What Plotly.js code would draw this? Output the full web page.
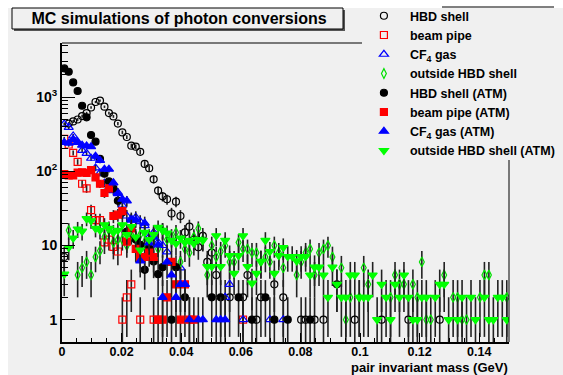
<!DOCTYPE html>
<html>
<head>
<meta charset="utf-8">
<script src="https://cdn.plot.ly/plotly-3.0.1.min.js"></script>
<style>html,body{margin:0;padding:0;background:#f0f0f0;}#chart{width:563px;height:375px;}</style>
</head>
<body>
<div id="chart"></div>
<script>
// histogram binning (GeV)
const binWidth = 0.0015;
const nBins = 100;

// counts per bin (null = empty bin)
const hbdShell = [7,440,470,500,555,610,725,860,900,743,610,550,440,335,290,222,215,183,126,110,
  78,55,46,42,27,39,25,15,18,12,9.5,13.5,6,8,4,null,null,2,null,null,
  2,4,null,1,2,null,null,3,null,2,null,null,null,1,1,null,1,null,1,null,
  null,null,null,null,null,1,null,null,null,null,null,1,null,null,null,null,null,1,null,null,
  null,null,null,null,1,null,null,null,null,null,null,null,null,null,null,null,null,null,null,null];

const beamPipe = [275,230,177,134,68,59,30,22,22,11,12,9.6,8.3,1,2,3,null,1,null,null,
  1,null,null,null,null,null,null,null,null,null,null,null,null,null,null,null,null,null,null,null,
  1,null,null,null,null,null,null,null,null,null,null,null,null,null,null,null,null,null,null,null,
  null,null,null,null,null,null,null,null,null,null,null,null,null,null,null,null,null,null,null,null,
  null,null,null,null,null,null,null,null,null,null,null,null,null,null,null,null,null,null,null,null];

const cf4Gas = [434,392,300,250,192,175,150,111,95,69,60,55,52,35,25,23,24,21,18.5,13,
  15,11,10,8.2,null,null,5,null,null,null,null,null,null,null,null,null,2,3,null,null,
  1,null,null,null,null,null,1,null,null,1,null,null,null,null,null,null,null,null,null,null,
  null,null,null,null,null,null,null,null,null,null,null,null,null,null,null,null,null,null,null,null,
  null,null,null,null,null,null,null,null,null,null,null,null,null,null,null,null,null,null,null,null];

const outsideShell = [null,16,null,4,5,6,4,7,8.5,13,16,11,12,12,10,14,12,14,11,10,
  13,9,16,12,13,15,6,9,8,13,17,12,4,10,7,8.3,10,6,6,11,
  9,9,8,8,6,7,6,10,8,5,null,null,4,6,8,9,4,8,9,10,
  7,null,5,1,2,null,2,5,3,null,null,null,null,2,4,3,3,null,3,2,
  6,1,1,null,null,4,null,2,2,1,1,null,null,2,4,4,null,null,null,2];

const hbdShellATM = [2440,2200,1580,1210,766,535,309,251,147,93,73,59,40,28,15.4,17,12,10.2,4.7,9.2,
  6.1,4.1,5.1,null,1,5.1,null,2,null,null,null,null,null,2,null,2,null,null,null,2,
  null,null,1,null,null,2,null,1,null,null,1,null,null,null,null,1,null,null,null,null,
  null,3,null,null,null,null,null,null,null,null,null,null,null,null,null,null,null,null,null,null,
  null,null,null,null,null,null,null,null,null,null,null,null,null,null,null,null,null,null,null,null];

const beamPipeATM = [92,88,88,96,97,95,104,83,68,51,59,25,26,29,11.3,17,9,7,7,8,
  7,1,1,2,6,3,1,3,1,1,null,null,null,null,null,null,null,null,null,null,
  null,null,null,null,null,null,null,null,null,null,null,null,null,null,null,null,null,null,null,null,
  null,null,null,null,null,null,null,null,null,null,null,null,null,null,null,null,null,null,null,null,
  null,null,null,null,null,null,null,null,null,null,null,null,null,null,null,null,null,null,null,null];

const cf4GasATM = [245,240,270,245,225,220,215,160,140,107,107,70,50,42,40,22,22,6.2,20,10.8,
  13,10.2,2,6,4,2,3,3,1,null,1,1,null,null,1,1,1,null,null,null,
  null,null,null,null,null,null,null,null,null,null,null,null,null,null,null,null,null,null,null,null,
  null,null,null,null,null,null,null,null,null,null,null,null,null,null,null,null,null,null,null,null,
  null,null,null,null,null,null,null,null,null,null,null,null,null,null,null,null,null,null,null,null];

const outsideShellATM = [4.1,9.4,12.6,16.7,15.6,23,21.5,17,16,19,17,15,16,19,14,18,13,8.7,15,12,
  14,17.6,16,14.7,11.7,10.6,12.6,11,11.7,10.6,12,11.7,5.2,5.2,13.5,5.2,11.7,7.3,4.2,7.3,
  13.5,5.2,3.1,4.2,6.1,11.7,8.3,4.2,7.3,9.4,7.1,7.1,6.2,7.1,7.1,4,5.1,5.1,4,2,
  5.1,3,2,2,4,4,2,2,2,4,1,3,2,1,3,2,4,2,1,1,
  2,2,null,2,3,3,1,null,1,2,null,2,1,null,2,1,1,2,2,1];

const seriesNames = ['HBD shell','beam pipe','CF<sub>4</sub> gas','outside HBD shell',
  'HBD shell (ATM)','beam pipe (ATM)','CF<sub>4</sub> gas (ATM)','outside HBD shell (ATM)'];

const xTickVals = [0,0.02,0.04,0.06,0.08,0.1,0.12,0.14];
const xTickText = ['0','0.02','0.04','0.06','0.08','0.1','0.12','0.14'];
const yTickVals = [1,10,100,1000];
const yTickText = ['1','10','10<sup>2</sup>','10<sup>3</sup>'];
const yMinorVals = [2,3,4,5,6,7,8,9,20,30,40,50,60,70,80,90,200,300,400,500,600,700,800,900,2000,3000,4000,5000];

const binCenters = [];
for (let i = 0; i < nBins; i++) binCenters.push((i + 0.5) * binWidth);

const styles = [
  {symbol:'circle-open', color:'#000000', size:7},
  {symbol:'square-open', color:'#ff0000', size:7},
  {symbol:'triangle-up-open', color:'#0000ff', size:8},
  {symbol:'diamond-tall-open', color:'#00e000', size:7},
  {symbol:'circle', color:'#000000', size:7},
  {symbol:'square', color:'#ff0000', size:7},
  {symbol:'triangle-up', color:'#0000ff', size:8},
  {symbol:'triangle-down', color:'#00ff00', size:8}
];
const allSeries = [hbdShell, beamPipe, cf4Gas, outsideShell, hbdShellATM, beamPipeATM, cf4GasATM, outsideShellATM];

const traces = allSeries.map((vals, k) => {
  const xs = [], ys = [], es = [];
  vals.forEach((v, i) => { if (v !== null) { xs.push(binCenters[i]); ys.push(v); es.push(Math.sqrt(v)); } });
  return {
    type:'scatter', mode:'markers', name: seriesNames[k], x: xs, y: ys,
    error_y: {type:'data', array: es, visible:true, color:'#222222', thickness:1.6, width:0},
    marker: {symbol: styles[k].symbol, size: styles[k].size, color: styles[k].color,
             line: {color: styles[k].color, width: 1.2}},
    cliponaxis: true
  };
});

const font = {family:'Liberation Sans, Arial, Helvetica, sans-serif', color:'#000', size:13, weight:'bold'};

const layout = {
  width:563, height:375,
  margin:{l:62, r:54, t:43, b:33, pad:0, autoexpand:false},
  paper_bgcolor:'#f0f0f0', plot_bgcolor:'#f0f0f0',
  font: font,
  showlegend:true,
  title:{text:'MC simulations of photon conversions', font:{family:font.family, size:16, weight:'bold', color:'#000'},
         x:0.318, xref:'container', xanchor:'center', y:0.951, yref:'container', yanchor:'middle'},
  xaxis:{range:[0,0.15], showgrid:false, zeroline:false, showline:true, linecolor:'#000', linewidth:2,
         ticks:'inside', ticklen:9, tickwidth:1, tickcolor:'#000', ticklabelstandoff:-3,
         tickmode:'array', tickvals:xTickVals, ticktext:xTickText, tickfont:{size:12.5, weight:'bold'},
         minor:{ticks:'inside', ticklen:4, dtick:0.005, tick0:0, tickcolor:'#000', tickwidth:1, showgrid:false}},
  yaxis:{type:'log', range:[Math.log10(0.5), 3.73], showgrid:false, zeroline:false, showline:true, linecolor:'#000', linewidth:2,
         ticks:'inside', ticklen:13, tickwidth:1, tickcolor:'#000',
         tickmode:'array', tickvals:yTickVals, ticktext:yTickText, tickfont:{size:14, weight:'bold'},
         minor:{ticks:'inside', ticklen:6, tickmode:'array', tickvals:yMinorVals, tickcolor:'#000', tickwidth:1, showgrid:false}},
  legend:{x:0.662, xanchor:'left', y:1.14, yanchor:'top', bgcolor:'rgba(0,0,0,0)', borderwidth:0,
          font:{family:font.family, size:12.5, weight:'bold', color:'#000'}, itemwidth:42, tracegroupgap:0},
  annotations:[
    {text:'pair invariant mass (GeV)', xref:'paper', yref:'paper', x:1.0, y:-0.058, xanchor:'right', yanchor:'top',
     borderpad:0, showarrow:false, font:{family:font.family, size:13, weight:'bold', color:'#000'}}
  ],
  shapes:[
    // white margins
    {type:'rect', xref:'paper', yref:'paper', x0:-0.2, x1:1.2, y0:(342-8)/299, y1:1.3, fillcolor:'#ffffff', line:{width:0}, layer:'below'},
    {type:'rect', xref:'paper', yref:'paper', x0:-0.2, x1:(8-62)/447, y0:-0.2, y1:1.3, fillcolor:'#ffffff', line:{width:0}, layer:'below'},
    // frame top & right (partly covered by legend)
    {type:'line', xref:'paper', yref:'paper', x0:0, x1:(362-62)/447, y0:1, y1:1, line:{color:'#000', width:1}},
    {type:'line', xref:'paper', yref:'paper', x0:1, x1:1, y0:0, y1:(342-160)/299, line:{color:'#000', width:1}},
    {type:'line', xref:'paper', yref:'paper', x0:(442-62)/447, x1:(554-62)/447, y0:(342-7)/299, y1:(342-7)/299, line:{color:'#000', width:1}},
    // title box with shadow
    {type:'rect', xref:'paper', yref:'paper', x0:(14-62)/447, x1:(345-62)/447, y0:(342-31)/299, y1:(342-10)/299, fillcolor:'#555', line:{width:0}},
    {type:'rect', xref:'paper', yref:'paper', x0:(12-62)/447, x1:(343-62)/447, y0:(342-29)/299, y1:(342-8)/299, fillcolor:'#f0f0f0', line:{color:'#000', width:1}}
  ]
};

Plotly.newPlot('chart', traces, layout, {displayModeBar:false, staticPlot:true});
</script>
</body>
</html>
